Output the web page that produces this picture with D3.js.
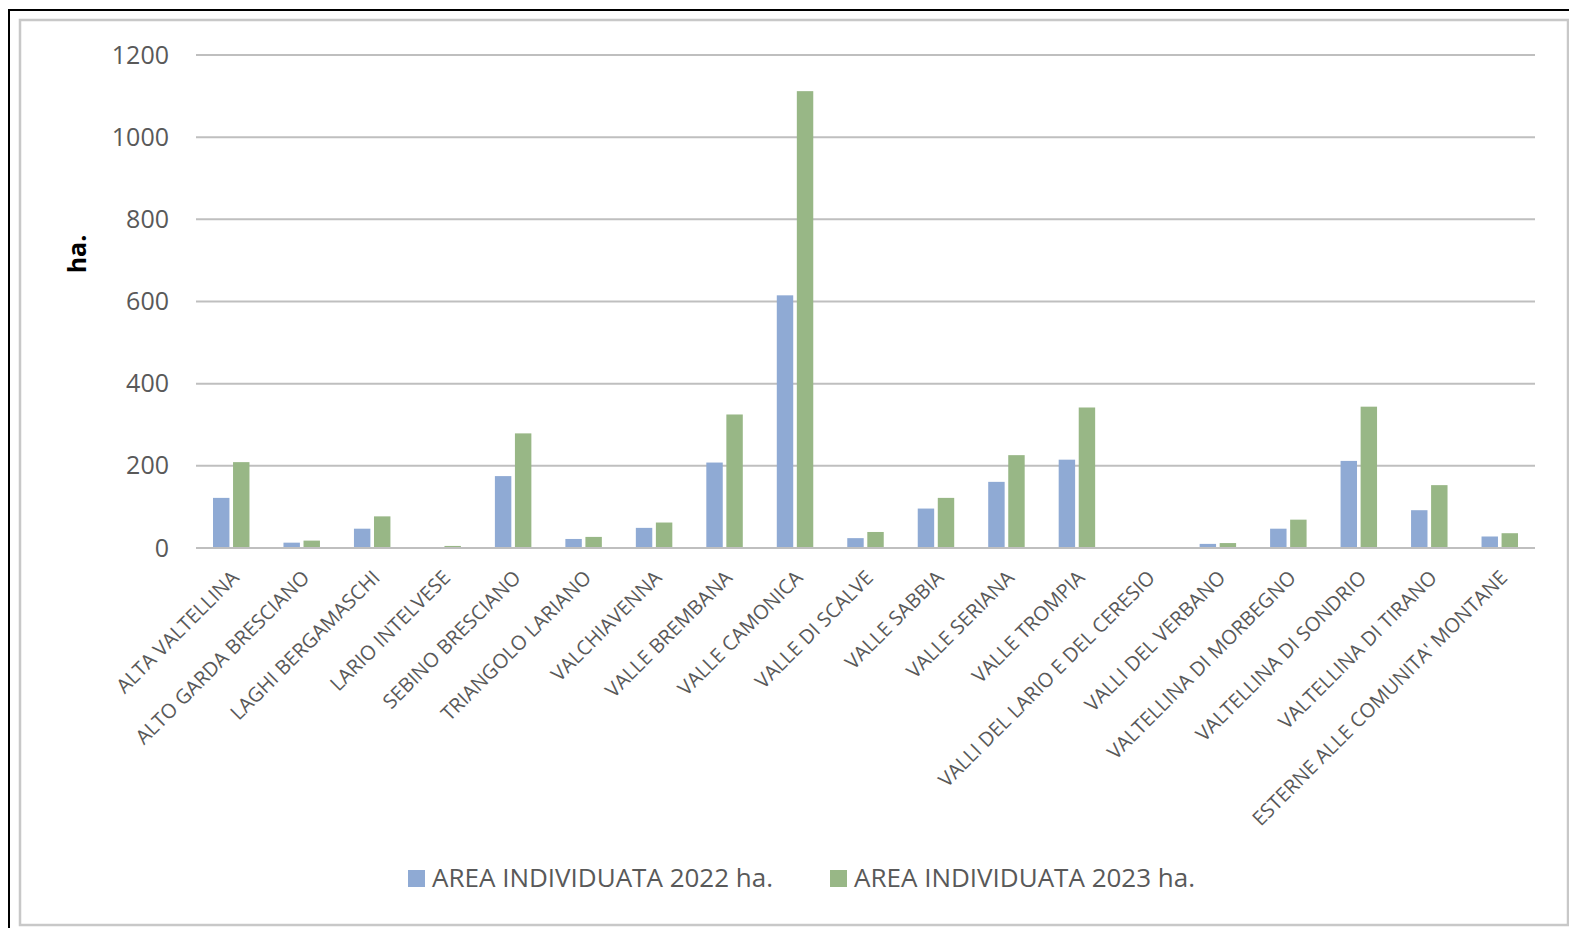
<!DOCTYPE html>
<html><head><meta charset="utf-8">
<script src="https://cdn.jsdelivr.net/npm/d3@7"></script>
<style>
html,body{margin:0;padding:0;background:#fff;}
svg{display:block;font-family:"Open Sans",sans-serif;}
</style></head>
<body><svg id="c" width="1569" height="928"></svg>
<script>
const categories = ["ALTA VALTELLINA","ALTO GARDA BRESCIANO","LAGHI BERGAMASCHI","LARIO INTELVESE","SEBINO BRESCIANO","TRIANGOLO LARIANO","VALCHIAVENNA","VALLE BREMBANA","VALLE CAMONICA","VALLE DI SCALVE","VALLE SABBIA","VALLE SERIANA","VALLE TROMPIA","VALLI DEL LARIO E DEL CERESIO","VALLI DEL VERBANO","VALTELLINA DI MORBEGNO","VALTELLINA DI SONDRIO","VALTELLINA DI TIRANO","ESTERNE ALLE COMUNITA' MONTANE"];
const area2022 = [122,13,47,0,175,22,49,208,615,24,96,161,215,0,10,47,212,92,28];
const area2023 = [209,18,77,5,279,27,62,325,1112,39,122,226,342,0,12,69,344,153,36];
const seriesNames = ["AREA INDIVIDUATA 2022 ha.","AREA INDIVIDUATA 2023 ha."];
const yTicks = [0,200,400,600,800,1000,1200];
const yLabel = "ha.";

const colors = ["#8FAAD4","#98B786"];
const textCol = "#595959";
const svg = d3.select("#c");
svg.append("rect").attr("width",1569).attr("height",928).attr("fill","#fff");
svg.append("rect").attr("x",9).attr("y",10).attr("width",1580).attr("height",940)
  .attr("fill","none").attr("stroke","#000").attr("stroke-width",2);
svg.append("rect").attr("x",20).attr("y",20).attr("width",1548).attr("height",905)
  .attr("fill","none").attr("stroke","#C8C8C8").attr("stroke-width",2.5);

const x0 = d3.scaleBand().domain(categories).range([196,1535]).padding(0);
const x1 = d3.scaleBand().domain([0,1]).range([17, x0.bandwidth()-17]).paddingInner(0.18);
const y = d3.scaleLinear().domain([0,1200]).range([548,55]);

// gridlines
svg.append("g").selectAll("line").data(yTicks).join("line")
  .attr("x1",196).attr("x2",1535)
  .attr("y1",d=>y(d)).attr("y2",d=>y(d))
  .attr("stroke","#BFBFBF").attr("stroke-width",2);

// y axis labels
const yAxis = d3.axisLeft(y).tickValues(yTicks).tickFormat(d3.format("d")).tickSize(0).tickPadding(0);
const ga = svg.append("g").attr("transform","translate(169,0)").call(yAxis);
ga.select(".domain").remove();
ga.selectAll("text").attr("font-size",25).attr("fill",textCol).attr("font-family","Open Sans");

// bars
const data = categories.map((c,i)=>({c, v:[area2022[i],area2023[i]]}));
const groups = svg.append("g").selectAll("g").data(data).join("g")
  .attr("transform",d=>`translate(${x0(d.c)},0)`);
groups.selectAll("rect").data(d=>d.v.map((v,k)=>({v,k}))).join("rect")
  .attr("x",d=>x1(d.k)).attr("width",x1.bandwidth())
  .attr("y",d=>y(d.v)).attr("height",d=>y(0)-y(d.v))
  .attr("fill",d=>colors[d.k]);

// baseline redraw on top
svg.append("line").attr("x1",196).attr("x2",1535).attr("y1",y(0)).attr("y2",y(0))
  .attr("stroke","#BFBFBF").attr("stroke-width",2);

// category labels
svg.append("g").selectAll("text").data(categories).join("text")
  .attr("transform",d=>`translate(${x0(d)+x0.bandwidth()/2+4},574) rotate(-45)`)
  .attr("text-anchor","end").attr("dy","0.35em")
  .attr("font-size",20).attr("fill",textCol)
  .text(d=>d);

// y label
svg.append("text").attr("transform","translate(86,254) rotate(-90)")
  .attr("text-anchor","middle").attr("font-size",25).attr("font-weight","bold")
  .attr("fill","#000").text(yLabel);

// legend
const legX = [408,830];
const leg = svg.append("g").selectAll("g").data(seriesNames).join("g")
  .attr("transform",(d,i)=>`translate(${legX[i]},0)`);
leg.append("rect").attr("x",0).attr("y",870).attr("width",17).attr("height",17)
  .attr("fill",(d,i)=>colors[i]);
leg.append("text").attr("x",24).attr("y",887).attr("font-size",26)
  .attr("fill",textCol).text(d=>d);
</script>
</body></html>
